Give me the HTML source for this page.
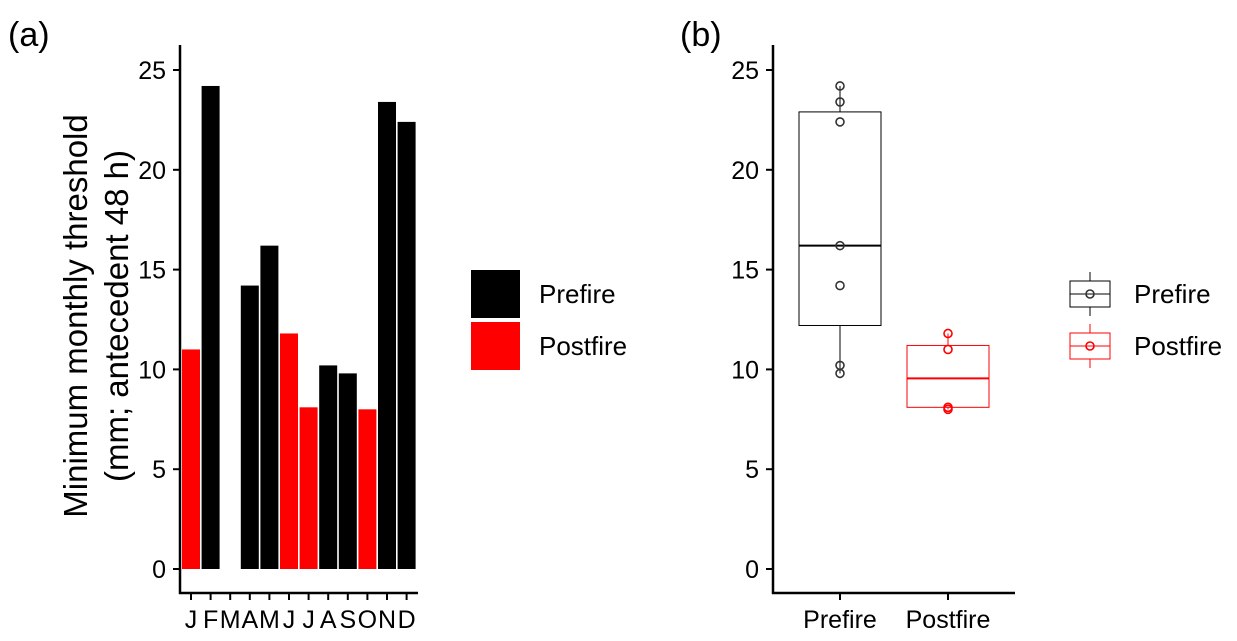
<!DOCTYPE html>
<html><head><meta charset="utf-8"><style>
body{margin:0;background:#fff}
svg{display:block;font-family:"Liberation Sans",Arial,sans-serif}
</style></head><body>
<svg id="c" width="1237" height="641" viewBox="0 0 1237 641"></svg>
<script>
const months=["J","F","M","A","M","J","J","A","S","O","N","D"];
const monthValues=[11.0,24.2,null,14.2,16.2,11.8,8.1,10.2,9.8,8.0,23.4,22.4];
const monthGroup=["Postfire","Prefire",null,"Prefire","Prefire","Postfire","Postfire","Prefire","Prefire","Postfire","Prefire","Prefire"];
const yTicks=[0,5,10,15,20,25];
const groups=["Prefire","Postfire"];
const prefirePoints=[24.2,23.4,22.4,16.2,14.2,10.2,9.8];
const postfirePoints=[11.8,11.0,8.1,8.0];
const boxStats=[[9.8,12.2,16.2,22.9,24.2],[8.0,8.1,9.55,11.2,11.8]];
const colors={Prefire:"#000",Postfire:"#f00"};

const svg=document.getElementById('c');
const NS="http://www.w3.org/2000/svg";
function mk(t,a,p){const e=document.createElementNS(NS,t);for(const k in a)e.setAttribute(k,a[k]);(p||svg).appendChild(e);return e;}
const y=v=>569-v*19.96;

const ga=mk('g',{});


const xa=i=>191+i*19.6;
monthValues.forEach((v,i)=>{
  if(v==null)return;
  const r=mk('rect',{x:xa(i)-9,y:y(v),width:18,height:y(0)-y(v),fill:colors[monthGroup[i]]},ga);
  
  
});
mk('line',{x1:180,y1:45,x2:180,y2:594,stroke:'#000','stroke-width':2.5},ga);
mk('line',{x1:179,y1:593,x2:418,y2:593,stroke:'#000','stroke-width':2.5},ga);
yTicks.forEach(t=>{
  mk('line',{x1:173,y1:y(t),x2:180,y2:y(t),stroke:'#000','stroke-width':2},ga);
  const tx=mk('text',{x:166,y:y(t)+9,'text-anchor':'end','font-size':25,fill:'#000'},ga);tx.textContent=t;
  
  
});
months.forEach((m,i)=>{
  mk('line',{x1:xa(i),y1:593,x2:xa(i),y2:600,stroke:'#000','stroke-width':2},ga);
  const tx=mk('text',{x:xa(i),y:628,'text-anchor':'middle','font-size':25,fill:'#000'},ga);tx.textContent=m;
  
  
});
const yt=mk('text',{transform:'translate(97,316) rotate(-90)','text-anchor':'middle','font-size':33,fill:'#000'},ga);


mk('tspan',{x:0,dy:-10},yt).textContent='Minimum monthly threshold';
mk('tspan',{x:0,dy:41},yt).textContent='(mm; antecedent 48 h)';
const la=mk('text',{x:8,y:46,'font-size':34},ga);la.textContent='(a)';

[["Prefire",270],["Postfire",322]].forEach(([g,ty])=>{
  const r=mk('rect',{x:471,y:ty,width:49,height:48,fill:colors[g]},ga);
  
  const tx=mk('text',{x:539,y:ty+33,'font-size':26},ga);tx.textContent=g;
  
});

const gb=mk('g',{});


const xb=i=>840+i*108;
mk('line',{x1:773,y1:45,x2:773,y2:594,stroke:'#000','stroke-width':2.5},gb);
mk('line',{x1:772,y1:593,x2:1015,y2:593,stroke:'#000','stroke-width':2.5},gb);
yTicks.forEach(t=>{
  mk('line',{x1:766,y1:y(t),x2:773,y2:y(t),stroke:'#000','stroke-width':2},gb);
  const tx=mk('text',{x:759,y:y(t)+9,'text-anchor':'end','font-size':25},gb);tx.textContent=t;
  
});
groups.forEach((g,i)=>{
  mk('line',{x1:xb(i),y1:593,x2:xb(i),y2:600,stroke:'#000','stroke-width':2},gb);
  const tx=mk('text',{x:xb(i),y:628,'text-anchor':'middle','font-size':25},gb);tx.textContent=g;
  
  const [mn,q1,md,q3,mx]=boxStats[i];const c=colors[g];
  const bg=mk('g',{},gb);
  
  mk('line',{x1:xb(i),y1:y(mx),x2:xb(i),y2:y(q3),stroke:c,'stroke-width':1},bg);
  mk('line',{x1:xb(i),y1:y(q1),x2:xb(i),y2:y(mn),stroke:c,'stroke-width':1},bg);
  mk('rect',{x:xb(i)-41,y:y(q3),width:82,height:y(q1)-y(q3),fill:'none',stroke:c,'stroke-width':1},bg);
  mk('line',{x1:xb(i)-41,y1:y(md),x2:xb(i)+41,y2:y(md),stroke:c,'stroke-width':2},bg);
  const pts=i===0?prefirePoints:postfirePoints;
  pts.forEach(p=>{
    const ci=mk('circle',{cx:xb(i),cy:y(p),r:4,fill:'none',stroke:i===0?'#333':'#f00','stroke-width':1.6},bg);
    
  });
});
const lb=mk('text',{x:680,y:46,'font-size':34},gb);lb.textContent='(b)';

[["Prefire",294],["Postfire",346]].forEach(([g,cy])=>{
  const c=colors[g];
  const lg=mk('g',{},gb);
  
  mk('line',{x1:1090,y1:cy-22,x2:1090,y2:cy+22,stroke:c,'stroke-width':1},lg);
  mk('rect',{x:1070,y:cy-13,width:40,height:26,fill:'#fff',stroke:c,'stroke-width':1},lg);
  mk('line',{x1:1070,y1:cy,x2:1110,y2:cy,stroke:c,'stroke-width':1},lg);
  mk('circle',{cx:1090,cy:cy,r:4,fill:'none',stroke:g==='Prefire'?'#333':'#f00','stroke-width':1.6},lg);
  const tx=mk('text',{x:1134,y:cy+9,'font-size':26},lg);tx.textContent=g;
});
</script>
</body></html>
